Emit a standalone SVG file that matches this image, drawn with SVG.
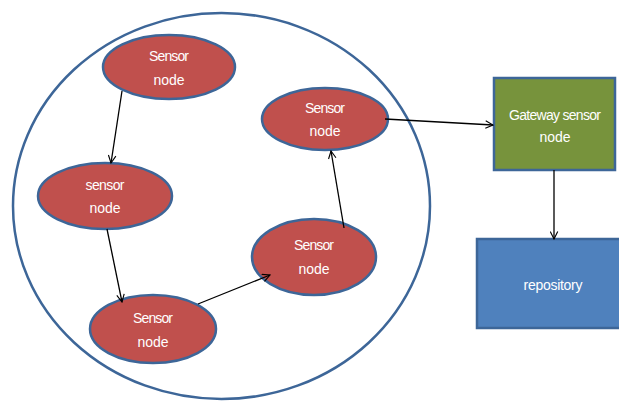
<svg xmlns="http://www.w3.org/2000/svg" width="619" height="402" viewBox="0 0 619 402">
<defs>
<style>
.sn{fill:#C0504D;stroke:#3D6698;stroke-width:2.5}
.t{fill:#fff;font-family:"Liberation Sans",Arial,sans-serif;font-size:14px;text-anchor:middle}
.c{stroke:#000;stroke-width:1.3;fill:none;marker-end:url(#ah)}
</style>
<marker id="ah" viewBox="0 0 12 12" refX="11" refY="6" markerWidth="9" markerHeight="9" markerUnits="userSpaceOnUse" orient="auto">
<path d="M1,1 L11,6 L1,11" fill="none" stroke="#000" stroke-width="1.5"/>
</marker>
</defs>
<rect width="619" height="402" fill="#fff"/>
<g id="cluster"><ellipse cx="221.5" cy="206" rx="208.5" ry="193" fill="none" stroke="#3D6698" stroke-width="2.5"/></g>
<g id="n1"><ellipse class="sn" cx="169" cy="67" rx="66" ry="32"/><text class="t" x="169" y="61" textLength="40">Sensor</text><text class="t" x="169" y="85">node</text></g>
<g id="n2"><ellipse class="sn" cx="105" cy="196" rx="67" ry="33"/><text class="t" x="105" y="190" textLength="39">sensor</text><text class="t" x="105" y="213">node</text></g>
<g id="n3"><ellipse class="sn" cx="153" cy="329" rx="63" ry="34"/><text class="t" x="153" y="323" textLength="40">Sensor</text><text class="t" x="153" y="347">node</text></g>
<g id="n4"><ellipse class="sn" cx="314" cy="257" rx="62" ry="38"/><text class="t" x="314" y="250" textLength="40">Sensor</text><text class="t" x="314" y="274">node</text></g>
<g id="n5"><ellipse class="sn" cx="325" cy="119" rx="63" ry="31"/><text class="t" x="325" y="113" textLength="40">Sensor</text><text class="t" x="325" y="136">node</text></g>
<g id="gateway"><rect x="494" y="78" width="121" height="92" fill="#77933C" stroke="#3D6698" stroke-width="2.5"/><text class="t" x="555" y="120" textLength="92">Gateway sensor</text><text class="t" x="555" y="142">node</text></g>
<g id="repository"><rect x="477" y="239" width="146" height="89" fill="#4F81BD" stroke="#3D6698" stroke-width="2.5"/><text class="t" x="553" y="290" textLength="59">repository</text></g>
<g id="connectors">
<line class="c" x1="122" y1="91" x2="111" y2="163"/>
<line class="c" x1="107" y1="229" x2="122" y2="302"/>
<line class="c" x1="198" y1="304" x2="270" y2="275" stroke-width="1.7"/>
<line class="c" x1="344" y1="228" x2="331" y2="151"/>
<line class="c" x1="385" y1="119" x2="493" y2="125"/>
<line class="c" x1="554" y1="170" x2="554" y2="239"/>
</g>
</svg>
